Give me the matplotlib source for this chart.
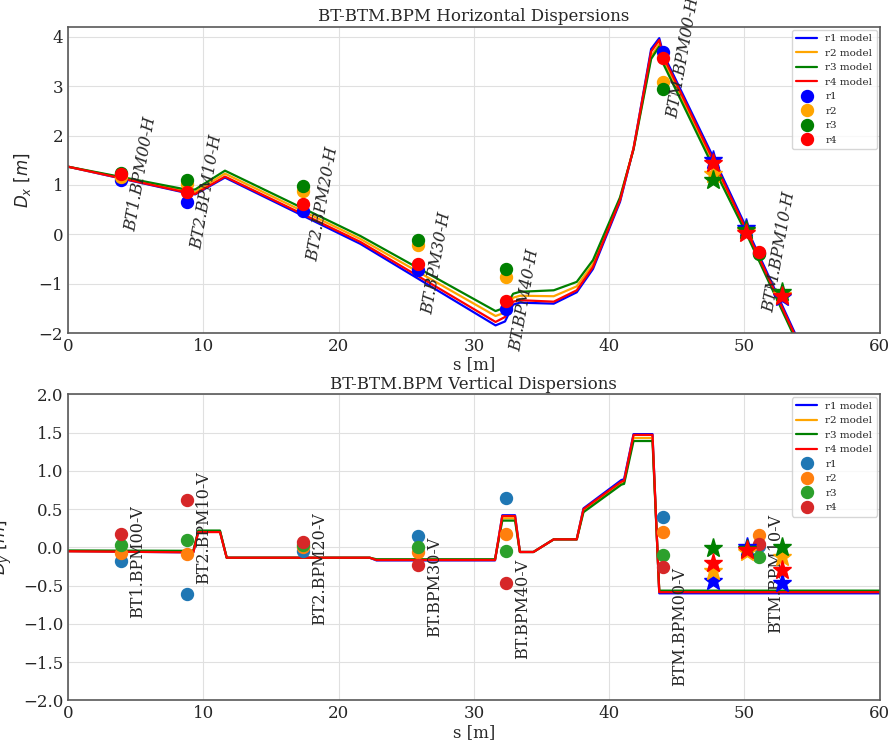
import numpy as np
import matplotlib
matplotlib.use("Agg")
import matplotlib.pyplot as plt

# ---- horizontal dispersion, model lines ----
s_model_x = [0.0, 8.9, 9.4, 11.6, 21.6, 31.6, 32.3, 32.9, 33.4, 35.9, 37.6, 38.8,
             40.8, 41.8, 43.1, 43.7, 44.0, 47.8, 50.2, 53.7, 60.0]
dx_model_r1 = [1.37, 0.83, 0.81, 1.15, -0.19, -1.84, -1.76, -1.42, -1.38, -1.40, -1.17, -0.70,
               0.66, 1.74, 3.75, 3.97, 3.65, 1.50, 0.10, -1.98, -5.60]
dx_model_r2 = [1.37, 0.87, 0.86, 1.23, -0.09, -1.65, -1.58, -1.28, -1.24, -1.25, -1.05, -0.60,
               0.72, 1.74, 3.60, 3.85, 3.52, 1.38, 0.02, -2.05, -5.70]
dx_model_r3 = [1.37, 0.90, 0.91, 1.29, -0.03, -1.55, -1.48, -1.20, -1.16, -1.13, -0.96, -0.52,
               0.75, 1.72, 3.55, 3.80, 3.45, 1.30, -0.02, -2.08, -5.75]
dx_model_r4 = [1.37, 0.84, 0.82, 1.17, -0.15, -1.77, -1.67, -1.36, -1.33, -1.36, -1.13, -0.66,
               0.69, 1.74, 3.70, 3.93, 3.60, 1.44, 0.05, -2.02, -5.65]

# ---- vertical dispersion, model lines ----
s_model_y = [0.0, 9.26, 9.63, 11.23, 11.73, 22.3, 22.8, 31.56, 32.1, 33.04, 33.4, 34.4,
             35.9, 37.6, 38.1, 40.9, 41.1, 41.8, 43.2, 43.7, 60.0]
dy_model_r1 = [-0.05, -0.065, 0.21, 0.21, -0.135, -0.135, -0.17, -0.17, 0.42, 0.42, -0.06, -0.06,
               0.105, 0.105, 0.51, 0.88, 0.89, 1.48, 1.48, -0.60, -0.60]
dy_model_r2 = [-0.05, -0.055, 0.21, 0.21, -0.135, -0.135, -0.16, -0.16, 0.38, 0.38, -0.06, -0.06,
               0.105, 0.105, 0.48, 0.84, 0.85, 1.43, 1.43, -0.58, -0.58]
dy_model_r3 = [-0.04, -0.045, 0.22, 0.22, -0.135, -0.135, -0.155, -0.155, 0.35, 0.35, -0.06, -0.06,
               0.105, 0.105, 0.46, 0.82, 0.83, 1.39, 1.39, -0.565, -0.565]
dy_model_r4 = [-0.05, -0.065, 0.20, 0.20, -0.135, -0.135, -0.165, -0.165, 0.41, 0.41, -0.06, -0.06,
               0.105, 0.105, 0.50, 0.86, 0.87, 1.47, 1.47, -0.585, -0.585]

# ---- BPM measurements ----
bpm_h = ["BT1.BPM00-H", "BT2.BPM10-H", "BT2.BPM20-H", "BT.BPM30-H", "BT.BPM40-H",
         "BTM.BPM00-H", "BTM.BPM10-H"]
bpm_v = ["BT1.BPM00-V", "BT2.BPM10-V", "BT2.BPM20-V", "BT.BPM30-V", "BT.BPM40-V",
         "BTM.BPM00-V", "BTM.BPM10-V"]
s_bpm = [3.9, 8.8, 17.4, 25.9, 32.4, 44.0, 51.1]

dx_r1 = [1.10, 0.66, 0.48, -0.72, -1.51, 3.70, -0.38]
dx_r2 = [1.17, 1.03, 0.88, -0.22, -0.87, 3.09, -0.38]
dx_r3 = [1.25, 1.11, 0.98, -0.12, -0.70, 2.94, -0.40]
dx_r4 = [1.23, 0.86, 0.61, -0.59, -1.34, 3.56, -0.35]

dy_r1 = [-0.175, -0.61, -0.045, 0.148, 0.64, 0.40, 0.017]
dy_r2 = [-0.07, -0.08, 0.0, -0.065, 0.18, 0.196, 0.16]
dy_r3 = [0.03, 0.10, 0.03, 0.008, -0.045, -0.10, -0.12]
dy_r4 = [0.17, 0.62, 0.065, -0.23, -0.46, -0.26, 0.043]

# star markers (screens)
s_star_x = [47.7, 50.1, 52.75]
dx_star_r1 = [1.50, 0.12, -1.26]
dx_star_r2 = [1.23, 0.06, -1.22]
dx_star_r3 = [1.11, 0.09, -1.16]
dx_star_r4 = [1.44, 0.02, -1.25]

s_star_y = [47.7, 50.2, 52.8]
dy_star_r1 = [-0.44, 0.01, -0.47]
dy_star_r2 = [-0.31, -0.06, -0.12]
dy_star_r3 = [-0.013, -0.02, 0.01]
dy_star_r4 = [-0.20, -0.03, -0.30]

# where the vertical bpm names sit
label_y_v = [-0.19, 0.26, -0.28, -0.52, -0.80, -1.04, -0.34]

runs = ["r1", "r2", "r3", "r4"]
pure = ["blue", "orange", "green", "red"]
tab = ["tab:blue", "tab:orange", "tab:green", "tab:red"]

plt.style.use("seaborn-v0_8-whitegrid")
plt.rcParams["font.family"] = "serif"
plt.rcParams["font.serif"] = ["DejaVu Serif"]
plt.rcParams["axes.edgecolor"] = "0.35"
plt.rcParams["axes.linewidth"] = 1.2
plt.rcParams["grid.color"] = "0.88"
plt.rcParams["xtick.labelsize"] = 12
plt.rcParams["ytick.labelsize"] = 12
plt.rcParams["xtick.color"] = "0.15"
plt.rcParams["ytick.color"] = "0.15"

fig = plt.figure(figsize=(8.95, 7.44), dpi=100)
ax1 = fig.add_axes([0.076, 0.552, 0.907, 0.412])
ax2 = fig.add_axes([0.076, 0.0585, 0.907, 0.4115])

# horizontal
for lab, c, d in zip(runs, pure, [dx_model_r1, dx_model_r2, dx_model_r3, dx_model_r4]):
    ax1.plot(s_model_x, d, color=c, lw=1.6, label=lab + " model")
for lab, c, d in zip(runs, pure, [dx_r1, dx_r2, dx_r3, dx_r4]):
    ax1.plot(s_bpm, d, "o", color=c, ms=8.6, label=lab, zorder=3)
for c, d in zip(pure, [dx_star_r1, dx_star_r2, dx_star_r3, dx_star_r4]):
    ax1.plot(s_star_x, d, "*", color=c, ms=14, zorder=4)
for name, s, v in zip(bpm_h, s_bpm, dx_r4):
    ax1.text(s + 0.1, v, name, rotation=80, ha="left", va="center", fontsize=11.5,
             style="italic", color="0.15")

ax1.set_xlim(0, 60)
ax1.set_ylim(-2, 4.2)
ax1.set_xticks(np.arange(0, 61, 10))
ax1.set_yticks(np.arange(-2, 5, 1))
ax1.set_xlabel("s [m]", fontsize=12, labelpad=1)
ax1.set_ylabel(r"$D_x\ [m]$", fontsize=12)
ax1.set_title("BT-BTM.BPM Horizontal Dispersions", fontsize=12, pad=4)
ax1.legend(loc="upper right", frameon=True, fontsize=7.5, borderaxespad=0.3)

# vertical
for lab, c, d in zip(runs, pure, [dy_model_r1, dy_model_r2, dy_model_r3, dy_model_r4]):
    ax2.plot(s_model_y, d, color=c, lw=1.6, label=lab + " model")
for lab, c, d in zip(runs, tab, [dy_r1, dy_r2, dy_r3, dy_r4]):
    ax2.plot(s_bpm, d, "o", color=c, ms=8.6, label=lab, zorder=3)
for c, d in zip(pure, [dy_star_r1, dy_star_r2, dy_star_r3, dy_star_r4]):
    ax2.plot(s_star_y, d, "*", color=c, ms=14, zorder=4)
for name, s, v in zip(bpm_v, s_bpm, label_y_v):
    ax2.text(s + 0.6, v, name, rotation=90, ha="left", va="center", fontsize=11.5,
             color="0.15")

ax2.set_xlim(0, 60)
ax2.set_ylim(-2, 2)
ax2.set_xticks(np.arange(0, 61, 10))
ax2.set_yticks(np.arange(-2, 2.01, 0.5))
ax2.set_xlabel("s [m]", fontsize=12, labelpad=1)
ax2.set_ylabel(r"$D_y\ [m]$", fontsize=12)
ax2.yaxis.set_label_coords(-0.066, 0.5)
ax2.set_title("BT-BTM.BPM Vertical Dispersions", fontsize=12, pad=4)
ax2.legend(loc="upper right", frameon=True, fontsize=7.5, borderaxespad=0.3)

fig.savefig("out.png", dpi=100)
